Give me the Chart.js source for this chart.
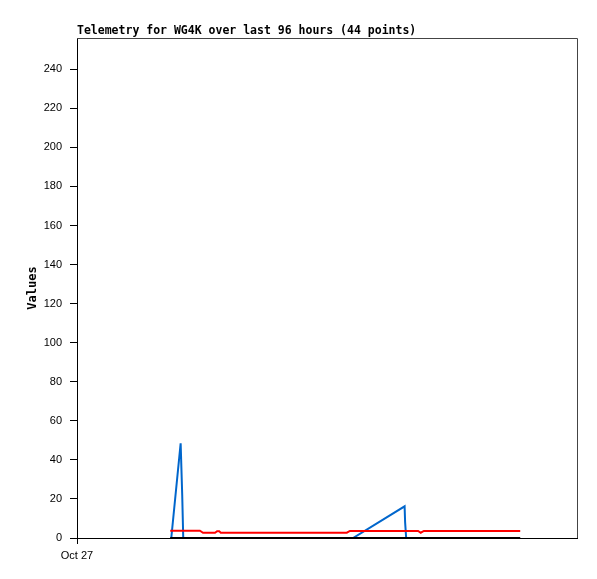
<!DOCTYPE html>
<html>
<head>
<meta charset="utf-8">
<script src="https://cdn.jsdelivr.net/npm/chart.js@4"></script>
<style>
  html, body { margin: 0; padding: 0; background: #fff; }
</style>
</head>
<body>
<canvas id="chartContainer" width="597" height="579"></canvas>
<script>
// hours since the left edge (Oct 27)
let redHours = [17.9, 23.6, 24.2, 26.5, 26.9, 27.3, 27.6, 51.8, 52.4, 65.5, 66.0, 66.6, 85.1];
let redValues = [3.7, 3.7, 2.7, 2.7, 3.5, 3.5, 2.7, 2.7, 3.6, 3.6, 2.7, 3.6, 3.6];

let blueHours = [17.9, 18.1, 19.9, 20.2, 20.4, 53.0, 62.9, 63.0, 63.2];
let blueValues = [0, 0, 48.5, 22, 0, 0, 16.2, 8, 0];

let blackHours = [17.9, 85.1];
let blackValues = [0, 0];

let yTicks = [0, 20, 40, 60, 80, 100, 120, 140, 160, 180, 200, 220, 240];
let xTickLabels = ['Oct 27'];
let chartTitle = 'Telemetry for WG4K over last 96 hours (44 points)';

// turn hours + values into {x, y} points for chart.js
function toPoints(hours, values) {
  let points = [];
  for (let i = 0; i < hours.length; i++) {
    points.push({ x: hours[i], y: values[i] });
  }
  return points;
}

// draws the title and the frame round the plot
const framePlugin = {
  id: 'frame',
  afterDraw(chart) {
    const ctx = chart.ctx;
    const a = chart.chartArea;
    ctx.save();
    ctx.strokeStyle = '#444';
    ctx.lineWidth = 1;
    ctx.beginPath();
    ctx.moveTo(a.left, a.top + 0.5);
    ctx.lineTo(a.right + 0.5, a.top + 0.5);
    ctx.lineTo(a.right + 0.5, a.bottom);
    ctx.stroke();
    ctx.fillStyle = '#000';
    ctx.font = 'bold 11.5px "DejaVu Sans Mono"';
    ctx.textBaseline = 'alphabetic';
    ctx.textAlign = 'left';
    ctx.fillText(chartTitle, a.left, a.top - 4);
    ctx.restore();
  }
};

let chartContainer = document.getElementById('chartContainer');
let chart = new Chart(chartContainer, {
  type: 'line',
  data: {
    datasets: [{
      data: toPoints(blackHours, blackValues),
      borderColor: '#000',
      borderWidth: 2,
      pointRadius: 0
    }, {
      data: toPoints(redHours, redValues),
      borderColor: '#ff0000',
      borderWidth: 2,
      pointRadius: 0
    }, {
      data: toPoints(blueHours, blueValues),
      borderColor: '#0066cc',
      borderWidth: 2,
      pointRadius: 0
    }]
  },
  options: {
    responsive: false,
    animation: false,
    layout: { padding: { top: 38, right: 20, left: 0, bottom: 0 } },
    plugins: {
      legend: { display: false },
      tooltip: { enabled: false }
    },
    scales: {
      x: {
        type: 'linear',
        min: 0,
        max: 96,
        afterFit(scale) { scale.height = 41; },
        afterBuildTicks(scale) { scale.ticks = [{ value: 0 }]; },
        border: { display: true, color: '#000', width: 1 },
        grid: { display: true, drawOnChartArea: false, drawTicks: true, tickLength: 6, color: '#000' },
        ticks: {
          color: '#000',
          font: { family: 'Liberation Sans', size: 11 },
          padding: 5,
          maxRotation: 0,
          callback: (v, i) => xTickLabels[i]
        }
      },
      y: {
        min: 0,
        max: 256,
        afterFit(scale) { scale.width = 77; },
        afterBuildTicks(scale) { scale.ticks = yTicks.map(v => ({ value: v })); },
        border: { display: true, color: '#000', width: 1 },
        grid: { display: true, drawOnChartArea: false, drawTicks: true, tickLength: 7, color: '#000' },
        ticks: {
          color: '#000',
          font: { family: 'Liberation Sans', size: 11 },
          padding: 8
        },
        title: {
          display: true,
          text: 'Values',
          color: '#000',
          font: { family: 'DejaVu Sans Mono', size: 12, weight: 'bold' },
          padding: { top: 26, bottom: 0 }
        }
      }
    }
  },
  plugins: [framePlugin]
});
</script>
</body>
</html>
